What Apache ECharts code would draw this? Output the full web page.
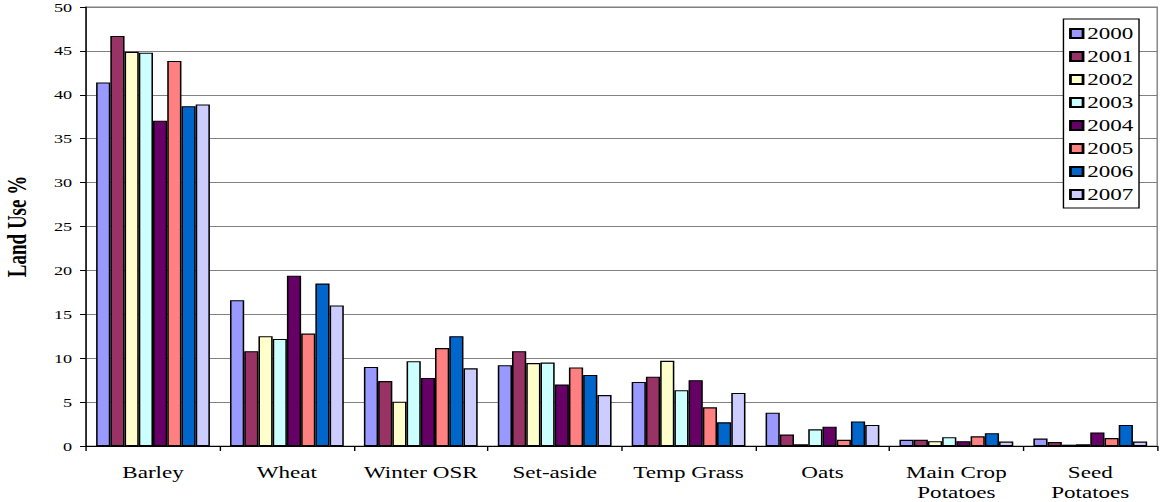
<!DOCTYPE html>
<html>
<head>
<meta charset="utf-8">
<script src="https://cdn.jsdelivr.net/npm/echarts@6/dist/echarts.min.js"></script>
<style>
  html, body { margin: 0; padding: 0; background: #fff; overflow: hidden; }
  /* The chart is laid out on a narrower stage and widened to 1160px,
     which gives the broad, wide-set lettering of the printed figure. */
  #stage { width: 1160px; height: 502px; overflow: hidden; }
  #chart { width: 829px; height: 502px; transform: scaleX(1.39928); transform-origin: 0 0; }
</style>
</head>
<body>
<div id="stage"><div id="chart"></div></div>
<script>
// Crop categories along the x axis
const categories = ['Barley', 'Wheat', 'Winter OSR', 'Set-aside', 'Temp Grass', 'Oats', 'Main Crop\nPotatoes', 'Seed\nPotatoes'];
const years = ['2000', '2001', '2002', '2003', '2004', '2005', '2006', '2007'];

// Land use share (%) per year, one value per category
const y2000 = [41.4, 16.6, 9.0, 9.2, 7.3, 3.8, 0.7, 0.85];
const y2001 = [46.7, 10.8, 7.4, 10.8, 7.9, 1.3, 0.7, 0.45];
const y2002 = [44.9, 12.5, 5.05, 9.45, 9.7, 0.2, 0.55, 0.15];
const y2003 = [44.8, 12.2, 9.65, 9.5, 6.35, 1.9, 1.0, 0.2];
const y2004 = [37.05, 19.4, 7.75, 7.0, 7.5, 2.2, 0.55, 1.55];
const y2005 = [43.85, 12.8, 11.15, 8.95, 4.4, 0.7, 1.1, 0.9];
const y2006 = [38.7, 18.5, 12.5, 8.1, 2.7, 2.8, 1.45, 2.4];
const y2007 = [38.9, 16.0, 8.85, 5.8, 6.05, 2.4, 0.5, 0.5];

const seriesValues = [y2000, y2001, y2002, y2003, y2004, y2005, y2006, y2007];
const colors = ['#9999FF', '#993366', '#FFFFCC', '#CCFFFF', '#660066', '#FF8080', '#0066CC', '#CCCCFF'];

const serif = '"Liberation Serif", "Times New Roman", serif';

const chart = echarts.init(document.getElementById('chart'), null, { renderer: 'svg', width: 829, height: 502 });

chart.setOption({
  animation: false,
  backgroundColor: '#ffffff',
  grid: {
    left: 61.5, right: 2, top: 7, bottom: 56,
    containLabel: false,
    outerBoundsMode: 'none',
    show: true, borderColor: '#808080', borderWidth: 1
  },
  legend: {
    orient: 'vertical',
    left: 760,
    top: 19,
    data: years,
    backgroundColor: '#ffffff',
    borderColor: '#000000',
    borderWidth: 1,
    borderRadius: 0,
    padding: [6, 4, 5, 4],
    itemWidth: 9,
    itemHeight: 9,
    itemGap: 6.0,
    icon: 'rect',
    textStyle: { fontFamily: serif, fontSize: 16.5, color: '#000', padding: [0, 0, 0, -2] }
  },
  xAxis: {
    type: 'category',
    data: categories,
    axisLine: { show: true, lineStyle: { color: '#000', width: 1 } },
    axisTick: { show: true, length: 5, lineStyle: { color: '#000' } },
    axisLabel: { fontFamily: serif, fontSize: 16.5, color: '#000', margin: 16, lineHeight: 20, interval: 0 },
    splitLine: { show: false }
  },
  yAxis: {
    type: 'value',
    min: 0,
    max: 50,
    interval: 5,
    name: 'Land Use %',
    nameLocation: 'middle',
    nameGap: 40,
    nameRotate: 90,
    nameTextStyle: { fontFamily: serif, fontSize: 19, fontWeight: 'bold', color: '#000' },
    axisLine: { show: true, lineStyle: { color: '#000', width: 1 } },
    axisTick: { show: true, inside: false, length: 4.3, lineStyle: { color: '#000' } },
    axisLabel: { fontFamily: serif, fontSize: 13, color: '#000', margin: 10 },
    splitLine: { show: true, lineStyle: { color: '#808080', width: 1 } }
  },
  series: seriesValues.map((vals, i) => ({
    name: years[i],
    type: 'bar',
    data: vals,
    barGap: '0%',
    barCategoryGap: '15%',
    itemStyle: { color: colors[i], borderColor: '#000', borderWidth: 1.1 }
  }))
});
</script>
</body>
</html>
